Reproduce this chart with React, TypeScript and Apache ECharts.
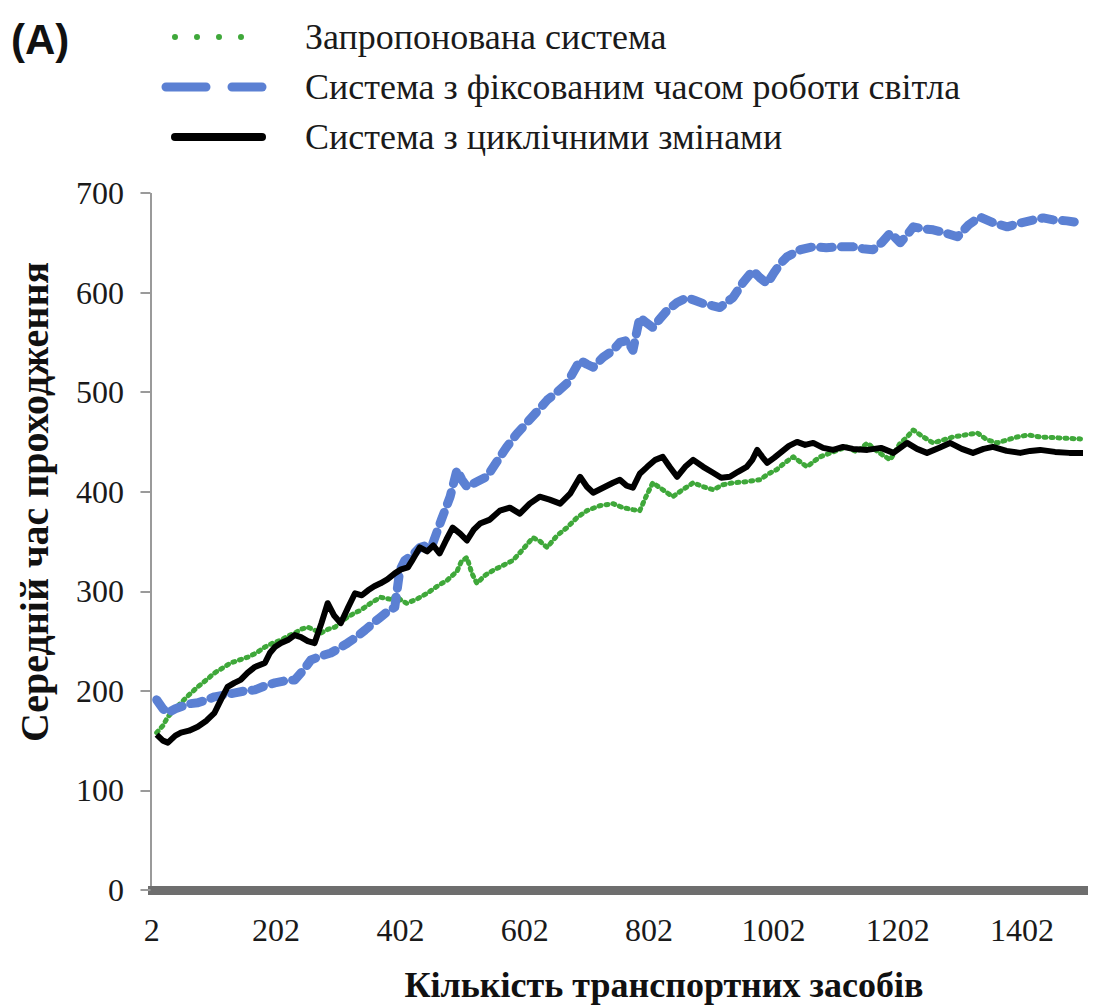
import React, { useEffect, useRef } from "react";
import * as echarts from "echarts";

const seriesNames = [
  "Запропонована система",
  "Система з фіксованим часом роботи світла",
  "Система з циклічними змінами",
];

const xTickValues = [2, 202, 402, 602, 802, 1002, 1202, 1402];
const yTickValues = [0, 100, 200, 300, 400, 500, 600, 700];

// [кількість транспортних засобів, середній час]
const proposed: [number, number][] = [
  [10, 158], [20, 165], [28, 174], [40, 182], [49, 188], [62, 196], [76, 204], [90, 211],
  [103, 218], [116, 223], [129, 228], [143, 231], [157, 234], [170, 238], [184, 244], [197, 248],
  [210, 251], [221, 255], [232, 258], [243, 262], [253, 264], [264, 261], [274, 258], [286, 262],
  [297, 264], [307, 270], [317, 274], [328, 278], [338, 281], [354, 288], [370, 294], [386, 292],
  [395, 296], [403, 291], [412, 288], [428, 292], [445, 298], [461, 305], [477, 311], [493, 320],
  [500, 330], [509, 334], [517, 318], [525, 308], [538, 316], [551, 321], [567, 326], [583, 331],
  [599, 342], [615, 354], [627, 350], [638, 344], [654, 356], [670, 364], [686, 374], [702, 381],
  [723, 386], [744, 388], [760, 384], [776, 382], [787, 381], [797, 395], [808, 409], [824, 402],
  [840, 395], [856, 402], [873, 409], [889, 405], [905, 402], [921, 407], [937, 409], [958, 410],
  [980, 412], [994, 418], [1007, 422], [1020, 429], [1034, 435], [1045, 430], [1056, 425], [1066, 430],
  [1077, 435], [1098, 440], [1120, 445], [1136, 440], [1153, 449], [1170, 440], [1190, 432], [1205, 448],
  [1217, 455], [1227, 462], [1243, 455], [1259, 449], [1275, 452], [1291, 455], [1310, 457], [1330, 459],
  [1346, 452], [1362, 449], [1378, 452], [1394, 455], [1412, 457], [1431, 455], [1462, 454], [1496, 453],
];

const fixedTime: [number, number][] = [
  [10, 191], [20, 182], [28, 178], [40, 182], [49, 184], [62, 187], [76, 188], [90, 191],
  [103, 194], [120, 196], [136, 198], [152, 200], [168, 201], [184, 205], [200, 208], [216, 210],
  [232, 211], [245, 220], [258, 231], [274, 235], [290, 238], [304, 243], [317, 248], [331, 254],
  [345, 261], [358, 268], [370, 274], [382, 280], [393, 284], [401, 321], [409, 331], [421, 336],
  [433, 344], [444, 346], [454, 348], [468, 372], [482, 395], [493, 422], [501, 412], [509, 405],
  [525, 410], [541, 415], [557, 430], [573, 445], [589, 458], [605, 469], [621, 480], [638, 492],
  [654, 500], [670, 509], [680, 520], [691, 532], [702, 528], [712, 525], [728, 535], [744, 542],
  [755, 550], [767, 552], [776, 542], [787, 575], [797, 570], [808, 565], [820, 574], [831, 582],
  [847, 590], [863, 595], [876, 592], [889, 589], [903, 587], [916, 585], [926, 590], [937, 595],
  [953, 610], [969, 622], [980, 615], [992, 609], [1003, 620], [1013, 629], [1024, 636], [1045, 643],
  [1066, 646], [1087, 645], [1109, 646], [1130, 646], [1146, 644], [1162, 643], [1176, 650], [1190, 660],
  [1206, 650], [1217, 658], [1227, 666], [1243, 664], [1259, 663], [1278, 660], [1298, 656], [1316, 668],
  [1334, 676], [1356, 670], [1378, 666], [1400, 670], [1421, 673], [1436, 675], [1452, 673], [1474, 672],
  [1496, 670],
];

const cyclic: [number, number][] = [
  [10, 156], [20, 150], [28, 148], [40, 155], [49, 158], [62, 160], [76, 164], [90, 170],
  [103, 178], [114, 192], [124, 204], [135, 208], [145, 211], [156, 218], [168, 224], [184, 228],
  [192, 238], [200, 244], [210, 248], [221, 251], [232, 256], [242, 254], [253, 250], [264, 248],
  [275, 268], [285, 288], [295, 276], [306, 268], [318, 284], [329, 298], [340, 296], [350, 301],
  [360, 305], [370, 308], [381, 312], [393, 318], [403, 322], [414, 324], [420, 330], [433, 344],
  [445, 340], [455, 346], [465, 338], [476, 352], [486, 364], [498, 358], [509, 351], [520, 362],
  [530, 368], [546, 372], [562, 381], [578, 384], [594, 378], [610, 388], [626, 395], [642, 392],
  [659, 388], [675, 398], [691, 415], [702, 405], [712, 399], [728, 404], [744, 409], [755, 412],
  [766, 406], [776, 404], [787, 418], [799, 425], [812, 432], [824, 435], [835, 425], [847, 415],
  [860, 425], [873, 432], [889, 425], [905, 419], [918, 414], [932, 415], [945, 420], [959, 425],
  [968, 432], [976, 442], [984, 435], [992, 429], [1003, 434], [1013, 439], [1027, 446], [1040, 450],
  [1053, 447], [1066, 449], [1082, 444], [1098, 442], [1114, 445], [1130, 443], [1153, 442], [1175, 444],
  [1195, 439], [1206, 444], [1217, 449], [1233, 443], [1249, 439], [1268, 444], [1286, 449], [1305, 443],
  [1323, 439], [1340, 443], [1355, 445], [1377, 441], [1399, 439], [1415, 441], [1431, 442], [1455, 440],
  [1478, 439], [1500, 439],
];

const GREEN = "#3fa83a";
const BLUE = "#5b80d3";
const BLACK = "#000000";
const SERIF = "'Liberation Serif', 'Times New Roman', serif";

export default function App() {
  const ref = useRef<HTMLDivElement>(null);

  useEffect(() => {
    if (!ref.current) return;
    const chart = echarts.init(ref.current, null, { renderer: "svg" });

    const legendY = [37, 87, 137];
    const legendLines = [
      { x1: 175, x2: 262, style: { stroke: GREEN, lineWidth: 6, lineDash: [0, 22], lineCap: "round" } },
      { x1: 166, x2: 262, style: { stroke: BLUE, lineWidth: 9, lineDash: [40, 26], lineCap: "round" } },
      { x1: 175, x2: 262, style: { stroke: BLACK, lineWidth: 8, lineCap: "round" } },
    ];
    const legendGraphics: any[] = [];
    seriesNames.forEach((name, i) => {
      legendGraphics.push({
        type: "line",
        shape: { x1: legendLines[i].x1, y1: legendY[i], x2: legendLines[i].x2, y2: legendY[i] },
        style: legendLines[i].style,
      });
      legendGraphics.push({
        type: "text",
        x: 305,
        y: legendY[i],
        style: {
          text: name,
          font: `36px ${SERIF}`,
          fill: "#1a1a1a",
          verticalAlign: "middle",
          align: "left",
        },
      });
    });

    chart.setOption({
      animation: false,
      backgroundColor: "#ffffff",
      grid: { left: 148, right: 5, top: 193, bottom: 117, containLabel: false },
      xAxis: {
        type: "value",
        min: -4,
        max: 1508,
        offset: 4,
        axisLine: { show: true, lineStyle: { color: "#6e6e6e", width: 9, cap: "butt" } },
        axisTick: { show: false },
        splitLine: { show: false },
        axisLabel: {
          customValues: xTickValues,
          formatter: (v: number) => String(v),
          color: "#1a1a1a",
          fontFamily: SERIF,
          fontSize: 32,
          margin: 20,
        },
      },
      yAxis: {
        type: "value",
        min: 0,
        max: 700,
        interval: 100,
        axisLine: { show: true, lineStyle: { color: "#9a9a9a", width: 2, cap: "butt" } },
        axisTick: { show: true, length: 10, lineStyle: { color: "#9a9a9a", width: 2 } },
        splitLine: { show: false },
        axisLabel: {
          customValues: yTickValues,
          formatter: (v: number) => String(v),
          color: "#1a1a1a",
          fontFamily: SERIF,
          fontSize: 32,
          margin: 24,
        },
      },
      graphic: [
        {
          type: "text",
          x: 11,
          y: 39,
          style: {
            text: "(A)",
            font: `bold 42px 'Liberation Sans', Arial, sans-serif`,
            fill: "#111",
            verticalAlign: "middle",
          },
        },
        ...legendGraphics,
        {
          type: "text",
          x: 664,
          y: 985,
          style: {
            text: "Кількість транспортних засобів",
            font: `bold 36px ${SERIF}`,
            fill: "#111",
            align: "center",
            verticalAlign: "middle",
          },
        },
        {
          type: "text",
          x: 34,
          y: 502,
          rotation: Math.PI / 2,
          style: {
            text: "Середній час проходження",
            font: `bold 40px ${SERIF}`,
            fill: "#111",
            align: "center",
            verticalAlign: "middle",
          },
        },
      ],
      series: [
        {
          name: seriesNames[0],
          type: "line",
          data: proposed,
          showSymbol: false,
          lineStyle: { color: GREEN, width: 5, type: [2, 5], cap: "round", join: "round" },
          z: 2,
        },
        {
          name: seriesNames[1],
          type: "line",
          data: fixedTime,
          showSymbol: false,
          lineStyle: { color: BLUE, width: 9, type: [12, 9], cap: "round", join: "round" },
          z: 3,
        },
        {
          name: seriesNames[2],
          type: "line",
          data: cyclic,
          showSymbol: false,
          lineStyle: { color: BLACK, width: 6, join: "round" },
          z: 4,
        },
      ],
    });

    return () => chart.dispose();
  }, []);

  return (
    <div
      ref={ref}
      style={{ position: "absolute", left: 0, top: 0, width: 1093, height: 1007 }}
    />
  );
}
